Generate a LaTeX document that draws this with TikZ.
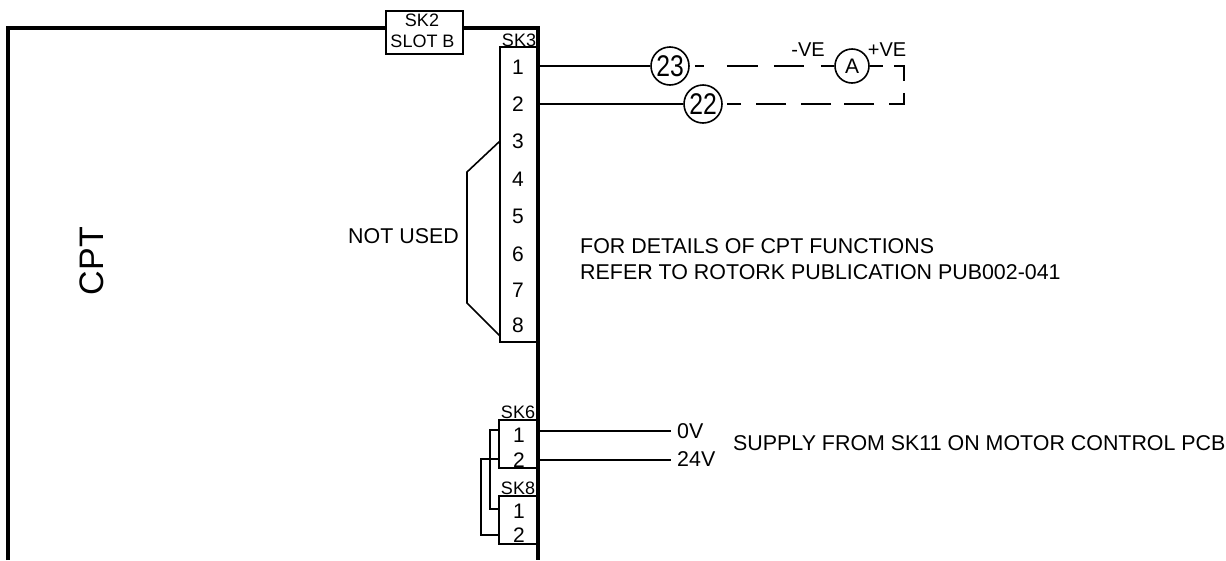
\documentclass[tikz,border=0pt]{standalone}
\usepackage{fontspec}
\setmainfont{Liberation Sans}
\newcommand{\ft}[1]{\fontsize{#1}{#1}\selectfont}
\newcommand{\bubnum}[1]{\scalebox{0.95}[1.15]{\ft{26}#1}}
\tikzset{
  x=1pt,y=-1pt,
  thin line/.style={line width=1.6pt,line cap=butt,line join=miter},
  thick line/.style={line width=3.4pt,line join=miter},
  wire/.style={line width=1.6pt},
  lab/.style={inner sep=0pt,font=\ft{21.4}},
  pin/.style={inner sep=0pt,font=\ft{21}},
  small/.style={inner sep=0pt,font=\ft{18}},
  volt/.style={inner sep=0pt,font=\ft{20}},
  bub/.style={circle,draw,line width=1.6pt,fill=white,inner sep=0pt}
}
\begin{document}
\begin{tikzpicture}
\useasboundingbox (0,0) rectangle (1226,560);
% main CPT frame
\coordinate (bl) at (8,560);
\coordinate (tl) at (8,28);
\coordinate (tr) at (538,28);
\coordinate (br) at (538,560);
\draw[thick line] (bl) -- (tl) -- (tr) -- (br);
\node[rotate=90,inner sep=0pt,font=\ft{34}] (cpt) at (92,261) {CPT};
% SK2
\node[draw,thin line,fill=white,minimum width=77pt,minimum height=43pt,inner sep=0pt,anchor=north west] (sk2) at (385,10) {};
\node[small] (sk2a) at (422,20) {SK2};
\node[small] (sk2b) at (422.5,41) {SLOT B};
% SK3
\coordinate (sk3tl) at (500,47);
\coordinate (sk3tr) at (537,47);
\coordinate (sk3bl) at (500,342);
\coordinate (sk3br) at (537,342);
\draw[thin line] (sk3tr) -- (sk3tl) -- (sk3bl) -- (sk3br);
\node[small] (sk3) at (519,40) {SK3};
\foreach \n/\y in {1/67,2/104,3/141,4/179,5/216,6/254,7/290,8/325}
  \node[pin] (p\n) at (518,\y) {\n};
% SK3 wires
\node[bub,minimum size=38pt] (n23) at (670,66) {\bubnum{23}};
\node[bub,minimum size=38pt] (n22) at (703,104) {\bubnum{22}};
\node[bub,minimum size=34pt] (nA) at (852,66) {\ft{21}A};
\coordinate (c1) at (538,66);
\coordinate (c2) at (538,104);
\coordinate (k1) at (904,66);
\coordinate (k2) at (904,104);
\draw[wire] (c1) -- (n23);
\draw[wire] (c2) -- (n22);
\draw[wire,dash pattern=on 0pt off 5pt on 9pt off 23pt on 31pt off 16pt on 30pt off 17pt on 30pt off 100pt] (n23) -- (nA);
\draw[wire,line join=miter,dash pattern=on 13pt off 11pt on 25pt off 12pt on 26pt off 15pt on 30pt off 13pt on 30pt off 15pt on 30pt off 15pt on 14pt off 100pt] (nA.east) -- (k1) -- (k2) -- (n22.east);
\node[volt] (mve) at (808,50) {-VE};
\node[volt] (pve) at (887,50) {+VE};
% not used bracket
\coordinate (b1) at (500,141);
\coordinate (b2) at (467,172);
\coordinate (b3) at (467,303);
\coordinate (b4) at (500,336);
\draw[thin line] (b1) -- (b2) -- (b3) -- (b4);
\node[lab,anchor=west] (nu) at (348,236) {NOT USED};
\node[lab,anchor=west] (t1) at (580,246) {FOR DETAILS OF CPT FUNCTIONS};
\node[lab,anchor=west] (t2) at (580,272) {REFER TO ROTORK PUBLICATION PUB002-041};
% SK6
\coordinate (s6tl) at (499,420);
\coordinate (s6tr) at (537,420);
\coordinate (s6bl) at (499,468);
\coordinate (s6br) at (537,468);
\draw[thin line] (s6tr) -- (s6tl) -- (s6bl) -- (s6br);
\node[small] (sk6) at (518,412.5) {SK6};
\node[pin] (q1) at (519,435) {1};
\node[pin] (q2) at (519,460) {2};
% SK8
\coordinate (s8tl) at (499,496);
\coordinate (s8tr) at (537,496);
\coordinate (s8bl) at (499,544);
\coordinate (s8br) at (537,544);
\draw[thin line] (s8tr) -- (s8tl) -- (s8bl) -- (s8br);
\node[small] (sk8) at (518,488.5) {SK8};
\node[pin] (r1) at (519,511) {1};
\node[pin] (r2) at (519,535) {2};
% links
\coordinate (l1) at (499,430);
\coordinate (l1b) at (490,430);
\coordinate (l1c) at (490,509);
\coordinate (l1d) at (499,509);
\coordinate (l2) at (499,459);
\coordinate (l2b) at (481,459);
\coordinate (l2c) at (481,535);
\coordinate (l2d) at (499,535);
\draw[thin line] (l1) -- (l1b) -- (l1c) -- (l1d);
\draw[thin line] (l2) -- (l2b) -- (l2c) -- (l2d);
% supply
\node[lab,anchor=west] (v0) at (677,431) {0V};
\node[lab,anchor=west] (v24) at (677,459) {24V};
\coordinate (c3) at (538,431);
\coordinate (c4) at (538,460);
\coordinate (e3) at (671,431);
\coordinate (e4) at (671,460);
\draw[wire] (c3) -- (e3);
\draw[wire] (c4) -- (e4);
\node[lab,anchor=west] (sup) at (733,443) {SUPPLY FROM SK11 ON MOTOR CONTROL PCB};
\end{tikzpicture}
\end{document}
